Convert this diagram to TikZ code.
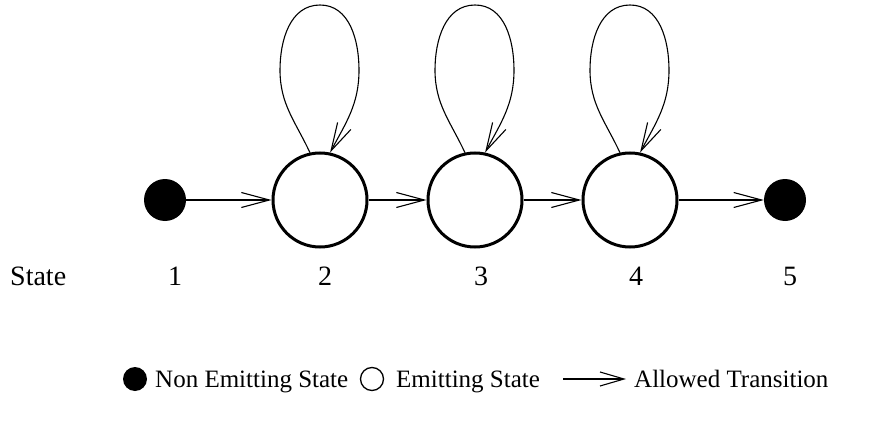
\documentclass[tikz,border=0pt]{standalone}
\usepackage{fontspec}
\setmainfont{Liberation Serif}
\usetikzlibrary{arrows.meta}
\begin{document}
\begin{tikzpicture}[x=1pt,y=1pt,
  nonemit/.style={circle,fill=black,minimum size=42pt,inner sep=0pt},
  emit/.style={circle,draw=black,line width=3pt,minimum size=94pt,inner sep=0pt},
  trans/.style={line width=1.1pt,-{Straight Barb[length=28pt,width=15pt,line width=1.1pt]}},
  lbl/.style={font=\fontsize{28}{32}\selectfont,anchor=base},
  leg/.style={font=\fontsize{25}{28}\selectfont,anchor=base west,inner sep=0pt}]
\useasboundingbox (0,0) rectangle (872,421);
\node[nonemit] (s1) at (165,221) {};
\node[emit] (s2) at (320,221) {};
\node[emit] (s3) at (475,221) {};
\node[emit] (s4) at (630,221) {};
\node[nonemit] (s5) at (785,221) {};
\draw[trans] (s1) -- (s2);
\draw[trans] (s2) -- (s3);
\draw[trans] (s3) -- (s4);
\draw[trans] (s4) -- (s5);
\foreach \s in {2,3,4}{
  \draw[trans] (s\s.102) to[out=115,in=270] ([xshift=-40pt,yshift=130pt]s\s.center)
     to[out=90,in=180] ([yshift=195pt]s\s.center)
     to[out=0,in=90] ([xshift=39pt,yshift=130pt]s\s.center)
     to[out=270,in=62] (s\s.78);
}
\node[lbl,anchor=base west,inner sep=0pt] (st) at (10,136) {State};
\node[lbl] (n1) at (175,136) {1};
\node[lbl] (n2) at (325,136) {2};
\node[lbl] (n3) at (481,136) {3};
\node[lbl] (n4) at (636,136) {4};
\node[lbl] (n5) at (790,136) {5};
% legend
\node[circle,fill=black,minimum size=24pt,inner sep=0pt] (l1) at (135,42) {};
\node[leg] (t1) at (155,34) {Non Emitting State};
\node[circle,draw=black,line width=1.3pt,minimum size=23pt,inner sep=0pt] (l2) at (372,42) {};
\node[leg] (t2) at (396,34) {Emitting State};
\coordinate (a1) at (563,42);
\coordinate (a2) at (626,42);
\draw[line width=1.1pt,-{Straight Barb[length=24pt,width=14pt,line width=1.1pt]}] (a1) -- (a2);
\node[leg] (t3) at (634,34) {Allowed Transition};
\end{tikzpicture}
\end{document}
